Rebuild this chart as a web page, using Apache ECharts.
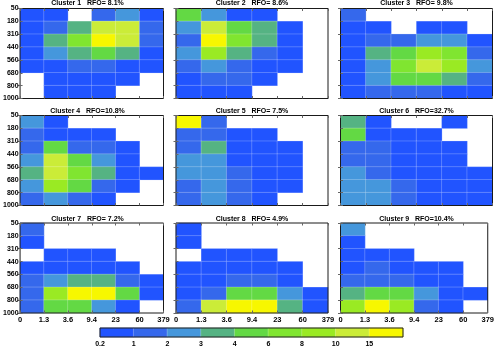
<!DOCTYPE html>
<html><head><meta charset="utf-8">
<script src="https://cdn.jsdelivr.net/npm/echarts@6/dist/echarts.min.js"></script>
<style>html,body{margin:0;padding:0;background:#fff}#c{width:497px;height:348px}</style>
</head><body><div id="c"></div>
<script>
// optical-thickness bin edges (x) and cloud-top pressure bin edges (y)
const xLabels = ['0','1.3','3.6','9.4','23','60','379'];
const yLabels = ['50','180','310','440','560','680','800','1000'];
const levels = ['0.2','1','2','3','4','6','8','10','15'];
const levelColors = ['#2154ff','#3568ec','#4597dc','#55b383','#63d944','#80e530','#9aea23','#cbec38','#f7f700'];
const colorbarValues = [0.6,1.5,2.5,3.5,5,7,9,12,18];
const titles = ['Cluster 1   RFO= 8.1%','Cluster 2   RFO= 8.6%','Cluster 3   RFO= 9.8%',
                'Cluster 4   RFO=10.8%','Cluster 5   RFO= 7.5%','Cluster 6   RFO=32.7%',
                'Cluster 7   RFO= 7.2%','Cluster 8   RFO= 4.9%','Cluster 9   RFO=10.4%'];
// rows: top (50-180) to bottom (800-1000); cols: left to right; null = no data
const c1 = [[0.6,0.6,null,1.5,2.5,0.6],[0.6,1.5,3.5,12,12,1.5],[0.6,3.5,7,18,12,1.5],[0.6,2.5,3.5,5,3.5,0.6],[0.6,0.6,1.5,1.5,0.6,0.6],[null,0.6,0.6,0.6,0.6,null],[null,0.6,0.6,0.6,null,null]];
const c2 = [[5,2.5,0.6,0.6,null,null],[2.5,12,5,3.5,0.6,null],[1.5,18,7,3.5,0.6,null],[2.5,9,3.5,1.5,0.6,null],[1.5,2.5,1.5,0.6,0.6,null],[0.6,1.5,1.5,0.6,null,null],[0.6,0.6,0.6,null,null,null]];
const c3 = [[1.5,null,null,null,null,null],[0.6,0.6,null,0.6,0.6,null],[0.6,1.5,1.5,2.5,2.5,0.6],[0.6,3.5,5,9,7,1.5],[0.6,2.5,7,12,9,2.5],[0.6,2.5,5,5,3.5,1.5],[0.6,1.5,1.5,1.5,0.6,0.6]];
const c4 = [[2.5,0.6,null,null,null,null],[1.5,0.6,0.6,0.6,null,null],[1.5,5,1.5,1.5,0.6,null],[2.5,12,5,2.5,0.6,null],[3.5,12,7,3.5,0.6,0.6],[2.5,9,5,1.5,0.6,null],[1.5,2.5,1.5,0.6,null,null]];
const c5 = [[18,1.5,null,null,null,null],[1.5,1.5,0.6,0.6,null,null],[1.5,3.5,0.6,0.6,0.6,null],[2.5,2.5,0.6,0.6,0.6,null],[2.5,2.5,1.5,0.6,0.6,null],[1.5,2.5,1.5,0.6,0.6,null],[1.5,2.5,1.5,0.6,null,null]];
const c6 = [[3.5,0.6,null,null,0.6,null],[5,0.6,0.6,0.6,null,null],[1.5,1.5,0.6,0.6,0.6,null],[1.5,1.5,0.6,0.6,0.6,null],[2.5,1.5,0.6,0.6,0.6,0.6],[2.5,2.5,1.5,0.6,0.6,0.6],[2.5,2.5,1.5,0.6,0.6,0.6]];
const c7 = [[1.5,null,null,null,null,null],[0.6,null,null,null,null,null],[null,0.6,0.6,0.6,null,null],[0.6,0.6,0.6,0.6,0.6,null],[1.5,2.5,3.5,3.5,1.5,0.6],[1.5,9,18,18,5,0.6],[1.5,5,5,2.5,0.6,null]];
const c8 = [[0.6,null,null,null,null,null],[0.6,null,null,null,null,null],[null,0.6,0.6,0.6,null,null],[0.6,0.6,0.6,0.6,0.6,null],[0.6,0.6,1.5,1.5,0.6,null],[0.6,1.5,5,5,2.5,0.6],[1.5,12,18,18,3.5,0.6]];
const c9 = [[2.5,null,null,null,null,null],[0.6,null,null,null,null,null],[0.6,0.6,0.6,null,null,null],[0.6,1.5,0.6,0.6,0.6,null],[1.5,1.5,1.5,0.6,0.6,null],[3.5,5,5,2.5,0.6,0.6],[9,18,9,1.5,0.6,null]];
const clusters = [c1,c2,c3,c4,c5,c6,c7,c8,c9];

const colLeft = [11.5, 176, 340.5];
const rowTop = [8.5, 115.5, 223];
const PW = 152, PH = 90;
const titleY = [3, 111, 219.5];
const FONT = '"Liberation Sans", Arial, sans-serif';
const NARROW = '"Liberation Sans Narrow", "Liberation Sans", Arial, sans-serif';

const grids = [], xAxes = [], yAxes = [], series = [], graphics = [];
const tickStyle = {show:true, inside:true, length:2.5, lineStyle:{color:'#666', width:1}};

clusters.forEach((m, i) => {
  const r = Math.floor(i/3), c = i%3;
  grids.push({left: colLeft[c], top: rowTop[r], width: PW, height: PH, show: true,
    borderColor: '#1a1a1a', borderWidth: 1, backgroundColor: 'transparent', z: 10});
  xAxes.push({type:'category', gridIndex:i, position:'top', data: xLabels.slice(0,6),
    axisLine:{show:false}, axisLabel:{show:false}, axisTick: tickStyle, splitLine:{show:false}, z:11});
  xAxes.push({type:'value', gridIndex:i, position:'bottom', min:0, max:6, interval:1,
    axisLine:{show:false}, splitLine:{show:false}, axisTick: tickStyle, z:11,
    axisLabel:{show: r===2, margin:3, fontSize:7.5, fontWeight:'bold', color:'#000', fontFamily:NARROW,
      showMinLabel:true, showMaxLabel:true, formatter: v => xLabels[Math.round(v)]}});
  yAxes.push({type:'category', gridIndex:i, position:'right', inverse:true, data: yLabels.slice(0,7),
    axisLine:{show:false}, axisLabel:{show:false}, axisTick: tickStyle, splitLine:{show:false}, z:11});
  yAxes.push({type:'value', gridIndex:i, position:'left', inverse:true, min:0, max:7, interval:1,
    axisLine:{show:false}, splitLine:{show:false}, axisTick: tickStyle, z:11,
    axisLabel:{show: c===0, margin:1.5, fontSize:7, fontWeight:'bold', color:'#000', fontFamily:NARROW,
      showMinLabel:true, showMaxLabel:true, formatter: v => yLabels[Math.round(v)]}});
  const data = [];
  m.forEach((row, ry) => row.forEach((v, cx) => { if (v !== null) data.push([cx, ry, v]); }));
  series.push({type:'heatmap', xAxisIndex: 2*i, yAxisIndex: 2*i, data, z:2,
    itemStyle:{borderColor:'rgba(255,255,255,0.28)', borderWidth:0.8}, emphasis:{disabled:true}});
  graphics.push({type:'text', x: colLeft[c] + PW/2, y: titleY[r], z:20,
    style:{text: titles[i], fontSize:7, fontWeight:'bold', fontFamily:FONT, fill:'#000',
      align:'center', verticalAlign:'middle'}});
});

// colour bar
const gi = 9;
grids.push({left:100, top:328, width:303, height:11, show:true, borderColor:'#1a1a1a', borderWidth:1,
  backgroundColor:'transparent', z:10});
xAxes.push({type:'category', gridIndex:gi, position:'top', data: levels, show:false});
xAxes.push({type:'value', gridIndex:gi, position:'bottom', min:0, max:9, interval:1,
  axisLine:{show:false}, axisTick:{show:false}, splitLine:{show:false},
  axisLabel:{show:true, margin:4, fontSize:7, fontWeight:'bold', color:'#000', fontFamily:NARROW,
    showMinLabel:true, showMaxLabel:true, formatter: v => levels[Math.round(v)] || ''}});
yAxes.push({type:'category', gridIndex:gi, data:['bar'], show:false});
yAxes.push({type:'value', gridIndex:gi, show:false, min:0, max:1});
series.push({type:'heatmap', xAxisIndex: 2*gi, yAxisIndex: 2*gi,
  data: colorbarValues.map((v, k) => [k, 0, v]), z:2,
  itemStyle:{borderColor:'rgba(255,255,255,0.28)', borderWidth:0.8}, emphasis:{disabled:true}});

const pieces = [
  {gte:0, lt:1}, {gte:1, lt:2}, {gte:2, lt:3}, {gte:3, lt:4}, {gte:4, lt:6},
  {gte:6, lt:8}, {gte:8, lt:10}, {gte:10, lt:15}, {gte:15}
].map((p, k) => Object.assign(p, {color: levelColors[k]}));

const chart = echarts.init(document.getElementById('c'), null, {renderer:'canvas'});
chart.setOption({
  animation:false,
  backgroundColor:'#fff',
  grid: grids, xAxis: xAxes, yAxis: yAxes, series,
  visualMap: {type:'piecewise', show:false, dimension:2, pieces,
    seriesIndex: series.map((s, k) => k)},
  graphic: graphics
});
</script></body></html>
